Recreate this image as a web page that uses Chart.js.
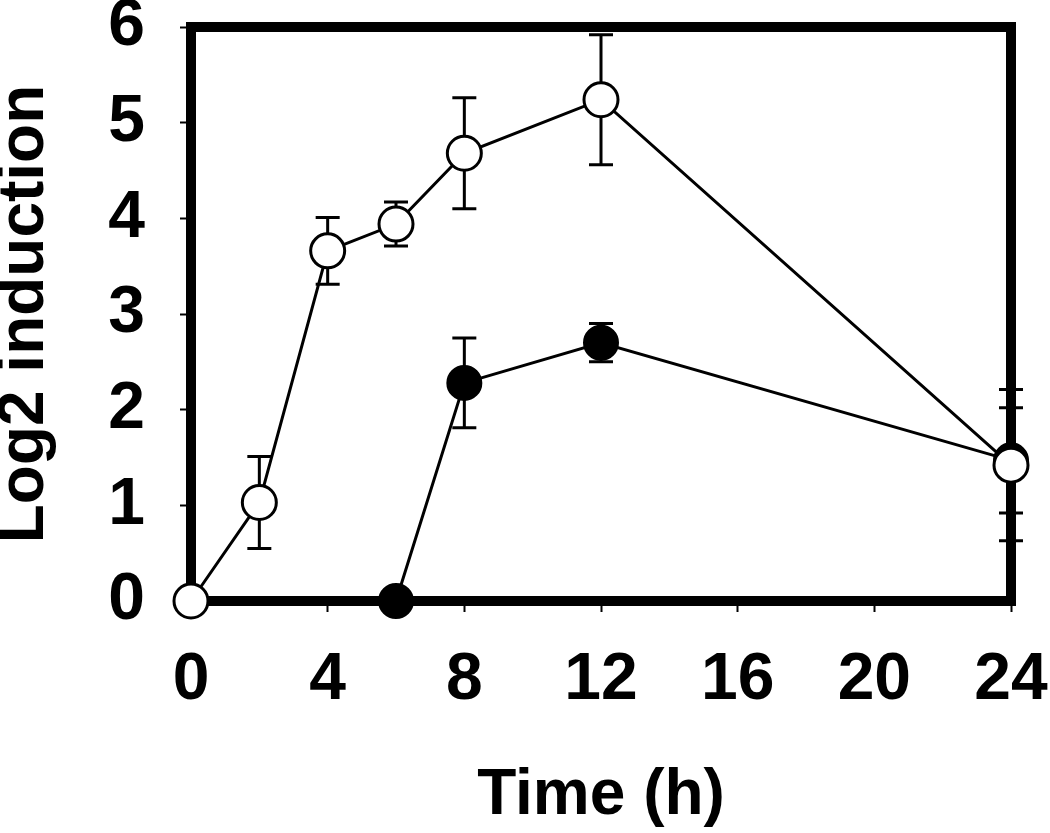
<!DOCTYPE html>
<html lang="en">
<head>
  <meta charset="UTF-8">
  <title>Log2 induction over time</title>
  <script src="https://cdn.jsdelivr.net/npm/chart.js"></script>
  <style>
    body { margin: 0; background: #fff; }
  </style>
</head>
<body>
  <canvas id="chart" width="1050" height="833"></canvas>
  <script>
    // open circles
    const openTimes = [0, 2, 4, 6, 8, 12, 24];
    const openValues = [0, 1.03, 3.66, 3.94, 4.68, 5.24, 1.42];
    const openErrors = [0, 0.48, 0.35, 0.23, 0.58, 0.68, 0.79];

    // filled circles
    const filledTimes = [6, 8, 12, 24];
    const filledValues = [0, 2.28, 2.70, 1.47];
    const filledErrors = [0, 0.47, 0.20, 0.55];

    const FONT = "'Liberation Sans', Arial, sans-serif";

    const toPoints = (xs, ys) => xs.map((x, i) => ({x: x, y: ys[i]}));

    // thick frame round the plot area, under the data
    const framePlugin = {
      id: 'frame',
      beforeDatasetsDraw(chart) {
        const {ctx, chartArea: a} = chart;
        ctx.save();
        ctx.strokeStyle = '#000';
        ctx.lineWidth = 10;
        ctx.lineJoin = 'miter';
        ctx.strokeRect(a.left, a.top, a.right - a.left, a.bottom - a.top);
        ctx.restore();
      }
    };

    // vertical error bars with caps
    const errorBarPlugin = {
      id: 'errorBars',
      beforeDatasetsDraw(chart) {
        const {ctx, scales: {x, y}} = chart;
        ctx.save();
        ctx.strokeStyle = '#000';
        ctx.lineWidth = 3;
        chart.data.datasets.forEach(ds => {
          ds.data.forEach((p, i) => {
            const e = ds.errors[i];
            if (!e) return;
            const px = x.getPixelForValue(p.x);
            const top = y.getPixelForValue(p.y + e);
            const bot = y.getPixelForValue(p.y - e);
            ctx.beginPath();
            ctx.moveTo(px, top);
            ctx.lineTo(px, bot);
            ctx.moveTo(px - 12, top);
            ctx.lineTo(px + 12, top);
            ctx.moveTo(px - 12, bot);
            ctx.lineTo(px + 12, bot);
            ctx.stroke();
          });
        });
        ctx.restore();
      }
    };

    new Chart(document.getElementById('chart'), {
      type: 'line',
      data: {
        datasets: [
          {
            label: 'open',
            data: toPoints(openTimes, openValues),
            errors: openErrors,
            borderColor: '#000',
            borderWidth: 3,
            pointRadius: 17,
            pointBorderWidth: 3,
            pointBackgroundColor: '#fff',
            pointBorderColor: '#000',
            tension: 0,
            clip: false
          },
          {
            label: 'filled',
            data: toPoints(filledTimes, filledValues),
            errors: filledErrors,
            borderColor: '#000',
            borderWidth: 3,
            pointRadius: 17,
            pointBorderWidth: 2,
            pointBackgroundColor: '#000',
            pointBorderColor: '#000',
            tension: 0,
            clip: false
          }
        ]
      },
      options: {
        responsive: false,
        animation: false,
        layout: {padding: {top: 27, right: 39, left: 0, bottom: 0}},
        plugins: {
          legend: {display: false},
          tooltip: {enabled: false}
        },
        scales: {
          x: {
            type: 'linear',
            min: 0,
            max: 24,
            border: {display: false},
            grid: {
              drawOnChartArea: false,
              drawTicks: true,
              tickLength: 11,
              tickWidth: 2,
              tickColor: '#000'
            },
            ticks: {
              stepSize: 4,
              color: '#000',
              padding: 29,
              maxRotation: 0,
              font: {family: FONT, size: 66, weight: 'bold'}
            },
            title: {
              display: true,
              text: 'Time (h)',
              color: '#000',
              padding: {top: 0, bottom: 5},
              font: {family: FONT, size: 64, weight: 'bold', lineHeight: 1}
            },
            afterFit(scale) {
              scale.height = 232;
              scale.paddingLeft = 0;
              scale.paddingRight = 0;
            }
          },
          y: {
            min: 0,
            max: 6,
            border: {display: false},
            grid: {
              drawOnChartArea: false,
              drawTicks: true,
              tickLength: 11,
              tickWidth: 2,
              tickColor: '#000'
            },
            ticks: {
              stepSize: 1,
              color: '#000',
              padding: 35,
              font: {family: FONT, size: 66, weight: 'bold'}
            },
            title: {
              display: true,
              text: 'Log2 induction',
              color: '#000',
              padding: {top: 0, bottom: 0},
              font: {family: FONT, size: 64, weight: 'bold', lineHeight: 0.8}
            },
            afterFit(scale) {
              scale.width = 191;
              scale.paddingTop = 0;
              scale.paddingBottom = 0;
            }
          }
        }
      },
      plugins: [framePlugin, errorBarPlugin]
    });
  </script>
</body>
</html>
